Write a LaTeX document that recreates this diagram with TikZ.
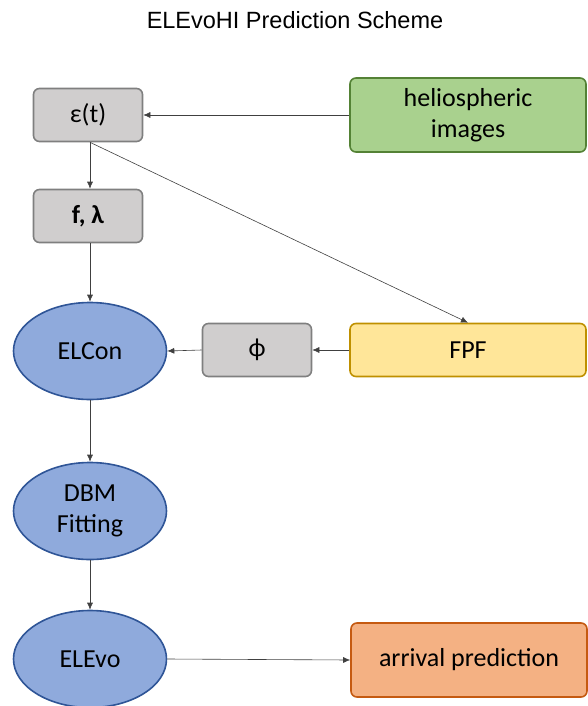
\documentclass[tikz,border=0pt]{standalone}
\usepackage{fontspec}
\setmainfont{Carlito}
\newfontfamily\titlefont{Liberation Sans}
\usetikzlibrary{arrows.meta,shapes.geometric}
\definecolor{grayfill}{HTML}{D0CECE}
\definecolor{grayline}{HTML}{7F7F7F}
\definecolor{greenfill}{HTML}{A9D18E}
\definecolor{greenline}{HTML}{548235}
\definecolor{yellowfill}{HTML}{FFE699}
\definecolor{yellowline}{HTML}{BF9000}
\definecolor{orangefill}{HTML}{F4B183}
\definecolor{orangeline}{HTML}{C55A11}
\definecolor{bluefill}{HTML}{8FAADC}
\definecolor{blueline}{HTML}{2F5597}
\tikzset{
  x=1pt,y=-1pt,
  box/.style={draw, rounded corners=6pt, line width=1.6pt, inner sep=0pt, align=center, font=\fontsize{26}{31}\selectfont},
  graybox/.style={box, fill=grayfill, draw=grayline, minimum width=109pt, minimum height=53pt},
  widebox/.style={box, minimum width=236pt, minimum height=74pt},
  ell/.style={ellipse, draw=blueline, fill=bluefill, line width=1.6pt, minimum width=153pt, minimum height=97pt, inner sep=0pt, align=center, font=\fontsize{26}{31}\selectfont},
  conn/.style={draw=black!75, line width=0.6pt, -{Latex[length=7pt,width=6pt]}}
}
\begin{document}
\begin{tikzpicture}
\useasboundingbox (0,0) rectangle (587,706);
\node[font=\titlefont\fontsize{23.5}{28}\selectfont] (title) at (295,20) {ELEvoHI Prediction Scheme};
\node[graybox] (eps) at (88,115) {ε(t)};
\node[graybox] (flam) at (88,216) {\textbf{f, λ}};
\node[widebox, fill=greenfill, draw=greenline] (helio) at (468,115) {heliospheric\\images};
\node[ell] (elcon) at (90,351) {ELCon};
\node[graybox] (phi) at (257,350) {ϕ};
\node[box, fill=yellowfill, draw=yellowline, minimum width=236pt, minimum height=53pt] (fpf) at (468,350) {FPF};
\node[ell] (dbm) at (90,511) {DBM\\Fitting};
\node[ell] (elevo) at (90,659) {ELEvo};
\node[widebox, fill=orangefill, draw=orangeline] (arr) at (469,660) {arrival prediction};
\draw[conn] (helio.west) -- (eps.east);
\draw[conn] ([xshift=2pt]eps.south) -- ([xshift=2pt]flam.north);
\draw[conn] ([xshift=2pt]eps.south) -- (fpf.north);
\draw[conn] ([xshift=2pt]flam.south) -- (elcon.north);
\draw[conn] (fpf.west) -- (phi.east);
\draw[conn] (phi.west) -- (elcon.east);
\draw[conn] (elcon.south) -- (dbm.north);
\draw[conn] (dbm.south) -- (elevo.north);
\draw[conn] (elevo.east) -- (arr.west);
\end{tikzpicture}
\end{document}
